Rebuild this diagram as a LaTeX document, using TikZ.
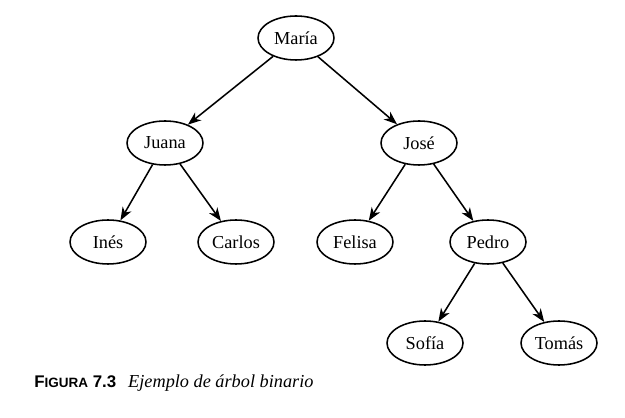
\documentclass[tikz,border=0pt]{standalone}
\usepackage{fontspec}
\setmainfont{Liberation Serif}
\newfontfamily\capfont{Liberation Sans}
\usetikzlibrary{shapes.geometric, arrows.meta}
\tikzset{>={Stealth[length=0.33cm, width=0.25cm, inset=0.1cm]}}
\tikzset{nombre/.style={ellipse, draw, line width=1.1pt, minimum width=1.9cm, minimum height=1.1cm, inner sep=0pt, font=\fontsize{13}{15}\selectfont}}

\begin{document}
\begin{tikzpicture}
\useasboundingbox (0,0) rectangle (15.625,10.425);
\node[nombre] (maria) at (7.4,9.475) {María};
\node[nombre] (juana) at (4.125,6.85) {Juana};
\node[nombre] (jose) at (10.475,6.85) {José};
\node[nombre] (ines) at (2.7,4.375) {Inés};
\node[nombre] (carlos) at (5.9,4.375) {Carlos};
\node[nombre] (felisa) at (8.875,4.375) {Felisa};
\node[nombre] (pedro) at (12.2,4.375) {Pedro};
\node[nombre] (sofia) at (10.625,1.85) {Sofía};
\node[nombre] (tomas) at (13.975,1.85) {Tomás};
\draw [->, line width=1.1pt] (maria) -- (juana);
\draw [->, line width=1.1pt] (maria) -- (jose);
\draw [->, line width=1.1pt] (juana) -- (ines);
\draw [->, line width=1.1pt] (juana) -- (carlos);
\draw [->, line width=1.1pt] (jose) -- (felisa);
\draw [->, line width=1.1pt] (jose) -- (pedro);
\draw [->, line width=1.1pt] (pedro) -- (sofia);
\draw [->, line width=1.1pt] (pedro) -- (tomas);
\node[anchor=base west, inner sep=0pt] (pie) at (0.85,0.75)
  {{\capfont\bfseries\fontsize{12}{14}\selectfont F{\fontsize{9.6}{11}\selectfont IGURA} 7.3}\hspace{0.3cm}{\fontsize{13}{15}\selectfont\itshape Ejemplo de árbol binario}};
\end{tikzpicture}
\end{document}
